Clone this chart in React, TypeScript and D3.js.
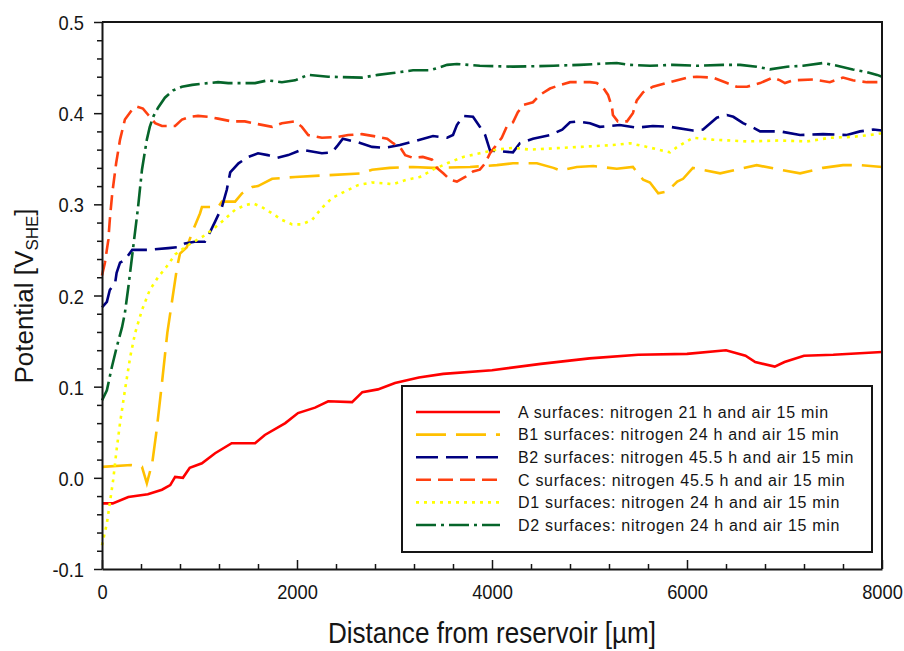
import React, { useRef, useEffect } from "react";
import * as d3 from "d3";

const width = 904;
const height = 651;

// A surfaces (red, solid)
const aX = [0, 110, 270, 470, 615, 700, 750, 830, 900, 1025, 1160, 1330, 1570, 1670, 1880, 2010, 2185, 2320, 2565, 2670, 2830, 3005, 3250, 3500, 4000, 4500, 5000, 5500, 6000, 6400, 6600, 6700, 6900, 7000, 7200, 7500, 8000];
const aY = [-0.028, -0.028, -0.021, -0.018, -0.013, -0.008, 0.001, 0.0, 0.011, 0.016, 0.027, 0.038, 0.038, 0.047, 0.06, 0.071, 0.077, 0.084, 0.083, 0.094, 0.097, 0.104, 0.11, 0.114, 0.118, 0.125, 0.131, 0.135, 0.136, 0.14, 0.134, 0.127, 0.122, 0.127, 0.134, 0.135, 0.138];

// B1 surfaces
const b1X = [0, 300, 410, 460, 515, 560, 615, 670, 720, 770, 800, 870, 935, 1005, 1025, 1190, 1230, 1365, 1435, 1540, 1600, 1745, 1980, 2320, 2665, 2770, 2950, 3190, 3395, 3775, 4050, 4215, 4460, 4630, 4700, 4870, 5040, 5280, 5445, 5550, 5620, 5705, 5795, 5900, 5960, 6060, 6340, 6545, 6715, 6955, 7160, 7395, 7600, 7775, 8000];
const b1Y = [0.012, 0.014, 0.012, -0.006, 0.016, 0.052, 0.104, 0.159, 0.195, 0.231, 0.246, 0.253, 0.272, 0.29, 0.297, 0.297, 0.303, 0.303, 0.312, 0.319, 0.32, 0.328, 0.33, 0.332, 0.334, 0.338, 0.34, 0.341, 0.34, 0.341, 0.343, 0.345, 0.345, 0.34, 0.337, 0.341, 0.342, 0.339, 0.341, 0.327, 0.324, 0.312, 0.314, 0.325, 0.328, 0.34, 0.334, 0.339, 0.343, 0.338, 0.334, 0.34, 0.343, 0.343, 0.341];

// B2 surfaces
const b2X = [0, 50, 80, 135, 150, 185, 235, 310, 475, 680, 780, 850, 950, 1055, 1110, 1160, 1230, 1280, 1315, 1400, 1500, 1600, 1700, 1795, 1910, 2050, 2255, 2360, 2420, 2470, 2625, 2770, 2900, 3055, 3230, 3395, 3540, 3600, 3640, 3705, 3805, 3870, 3930, 3980, 4215, 4285, 4420, 4595, 4720, 4800, 4880, 5005, 5105, 5310, 5485, 5650, 5825, 6060, 6165, 6305, 6410, 6475, 6575, 6680, 6750, 6955, 7160, 7395, 7640, 7775, 7910, 8000];
const b2Y = [0.187, 0.193, 0.206, 0.214, 0.225, 0.236, 0.239, 0.25, 0.25, 0.252, 0.253, 0.257, 0.259, 0.259, 0.27, 0.281, 0.297, 0.316, 0.335, 0.345, 0.352, 0.356, 0.354, 0.351, 0.354, 0.36, 0.356, 0.357, 0.365, 0.372, 0.368, 0.363, 0.362, 0.365, 0.37, 0.375, 0.373, 0.376, 0.387, 0.397, 0.396, 0.386, 0.376, 0.359, 0.357, 0.367, 0.372, 0.376, 0.382, 0.39, 0.391, 0.389, 0.385, 0.387, 0.384, 0.386, 0.385, 0.381, 0.382, 0.395, 0.398, 0.396, 0.389, 0.384, 0.38, 0.38, 0.376, 0.377, 0.376, 0.38, 0.382, 0.381];

// C surfaces
const cX = [0, 30, 65, 80, 105, 145, 185, 235, 310, 360, 420, 475, 545, 615, 750, 820, 900, 985, 1090, 1190, 1330, 1465, 1600, 1745, 1845, 1980, 2050, 2115, 2255, 2420, 2525, 2665, 2830, 2925, 2985, 3055, 3110, 3190, 3290, 3385, 3435, 3500, 3570, 3640, 3725, 3805, 3875, 3930, 3980, 4030, 4100, 4150, 4215, 4265, 4320, 4420, 4490, 4595, 4700, 4800, 5005, 5075, 5140, 5190, 5230, 5240, 5290, 5385, 5445, 5485, 5550, 5650, 5825, 6000, 6100, 6265, 6410, 6510, 6615, 6750, 6880, 6955, 7005, 7090, 7295, 7465, 7600, 7700, 7845, 8000];
const cY = [0.222, 0.236, 0.261, 0.283, 0.312, 0.345, 0.371, 0.393, 0.404, 0.407, 0.405, 0.398, 0.389, 0.386, 0.386, 0.393, 0.396, 0.397, 0.396, 0.394, 0.391, 0.391, 0.388, 0.385, 0.389, 0.391, 0.385, 0.376, 0.373, 0.374, 0.376, 0.377, 0.374, 0.372, 0.367, 0.363, 0.354, 0.351, 0.352, 0.349, 0.34, 0.334, 0.327, 0.325, 0.33, 0.336, 0.338, 0.345, 0.356, 0.363, 0.373, 0.385, 0.39, 0.401, 0.409, 0.412, 0.42, 0.427, 0.431, 0.434, 0.434, 0.433, 0.428, 0.42, 0.407, 0.398, 0.391, 0.391, 0.4, 0.414, 0.423, 0.429, 0.434, 0.439, 0.44, 0.439, 0.433, 0.429, 0.429, 0.433, 0.439, 0.436, 0.433, 0.436, 0.437, 0.434, 0.439, 0.436, 0.434, 0.434];

// D1 surfaces
const d1X = [0, 50, 80, 115, 150, 185, 235, 290, 340, 410, 490, 575, 665, 750, 880, 1025, 1130, 1230, 1365, 1465, 1550, 1640, 1745, 1845, 1950, 2050, 2155, 2255, 2360, 2490, 2625, 2770, 2900, 2985, 3125, 3260, 3395, 3540, 3705, 3875, 4050, 4215, 4390, 4730, 5075, 5240, 5415, 5590, 5825, 5900, 6060, 6265, 6615, 6955, 7230, 7465, 7700, 7875, 8000];
const d1Y = [-0.074, -0.05, -0.028, -0.002, 0.031, 0.06, 0.096, 0.133, 0.159, 0.184, 0.206, 0.22, 0.232, 0.245, 0.255, 0.264, 0.272, 0.281, 0.294, 0.299, 0.301, 0.297, 0.29, 0.283, 0.278, 0.278, 0.283, 0.296, 0.307, 0.314, 0.321, 0.324, 0.323, 0.322, 0.327, 0.33, 0.338, 0.345, 0.352, 0.356, 0.36, 0.362, 0.36, 0.362, 0.364, 0.365, 0.367, 0.363, 0.357, 0.363, 0.373, 0.371, 0.369, 0.37, 0.369, 0.373, 0.374, 0.376, 0.378];

// D2 surfaces
const d2X = [0, 50, 100, 150, 205, 235, 270, 320, 370, 410, 460, 490, 525, 575, 645, 730, 820, 925, 1090, 1190, 1295, 1570, 1700, 1845, 1980, 2115, 2320, 2665, 2830, 2985, 3190, 3365, 3540, 3640, 3875, 4215, 4630, 4900, 5075, 5280, 5415, 5620, 5855, 6100, 6370, 6545, 6715, 6850, 7025, 7190, 7395, 7540, 7700, 7845, 7950, 8000];
const d2Y = [0.085, 0.096, 0.121, 0.143, 0.165, 0.181, 0.209, 0.253, 0.297, 0.338, 0.371, 0.385, 0.396, 0.406, 0.417, 0.425, 0.429, 0.431, 0.433, 0.434, 0.433, 0.433, 0.436, 0.434, 0.436, 0.442, 0.44, 0.439, 0.442, 0.444, 0.447, 0.447, 0.453, 0.454, 0.452, 0.451, 0.452, 0.453, 0.454, 0.455, 0.453, 0.452, 0.453, 0.452, 0.453, 0.453, 0.451, 0.448, 0.451, 0.452, 0.455, 0.452, 0.448, 0.445, 0.442, 0.44];

const labels = [
  "A surfaces: nitrogen 21 h and air 15 min",
  "B1 surfaces: nitrogen 24 h and air 15 min",
  "B2 surfaces: nitrogen 45.5 h and air 15 min",
  "C surfaces: nitrogen 45.5 h and air 15 min",
  "D1 surfaces: nitrogen 24 h and air 15 min",
  "D2 surfaces: nitrogen 24 h and air 15 min",
];
const colors = ["#ff0000", "#ffc000", "#000080", "#ff4010", "#ffff00", "#06652a"];
const dashes = ["none", "30,10", "22,8", "15,7", "3,5", "20,5,3,5"];

const xMajor = [0, 2000, 4000, 6000, 8000];
const yMajor = [-0.1, 0.0, 0.1, 0.2, 0.3, 0.4, 0.5];

const font = "'Liberation Sans', Arial, sans-serif";
const ink = "#151515";

export default function App() {
  const svgRef = useRef<SVGSVGElement>(null);

  useEffect(() => {
    if (!svgRef.current) return;
    const svg = d3.select(svgRef.current);
    svg.selectAll("*").remove();

    const x = d3.scaleLinear().domain([0, 8000]).range([102, 882]);
    const y = d3.scaleLinear().domain([-0.1, 0.5]).range([569, 22]);

    const xMinor = d3.range(0, 8001, 400).filter(v => v % 2000 !== 0);
    const yMinor = d3.range(-5, 26).filter(i => i % 5 !== 0).map(i => i / 50);

    const series = [
      [aX, aY], [b1X, b1Y], [b2X, b2Y], [cX, cY], [d1X, d1Y], [d2X, d2Y],
    ].map(([xs, ys]) => xs.map((v, i) => [v, ys[i]] as [number, number]));

    const line = d3.line<[number, number]>()
      .x(d => x(d[0]))
      .y(d => y(d[1]));

    // data lines
    const lines = svg.append("g");
    series.forEach((pts, i) => {
      lines.append("path")
        .attr("d", line(pts))
        .attr("fill", "none")
        .attr("stroke", colors[i])
        .attr("stroke-width", 2.6)
        .attr("stroke-dasharray", dashes[i]);
    });

    // frame top + right
    svg.append("path")
      .attr("d", `M${x(0)},${y(0.5)}H${x(8000)}V${y(-0.1)}`)
      .attr("fill", "none").attr("stroke", ink).attr("stroke-width", 2);

    // x axis
    const gx = svg.append("g").attr("transform", `translate(0,${y(-0.1)})`);
    gx.append("g")
      .call(d3.axisBottom(x).tickValues(xMinor).tickSize(-5).tickSizeOuter(0).tickFormat(() => ""))
      .call(g => g.select(".domain").remove());
    gx.append("g")
      .call(d3.axisBottom(x).tickValues(xMajor).tickSizeInner(-9).tickSizeOuter(0).tickPadding(15).tickFormat(d => String(d)));
    gx.selectAll("text")
      .attr("font-size", 21)
      .attr("font-family", font)
      .attr("fill", ink)
      .attr("transform", "scale(0.87,1)");

    // y axis
    const gy = svg.append("g").attr("transform", `translate(${x(0)},0)`);
    gy.append("g")
      .call(d3.axisLeft(y).tickValues(yMinor).tickSize(5).tickSizeOuter(0).tickFormat(() => ""))
      .call(g => g.select(".domain").remove());
    gy.append("g")
      .call(d3.axisLeft(y).tickValues(yMajor).tickSize(8).tickSizeOuter(0).tickFormat(d => (+d).toFixed(1)));
    gy.selectAll("text")
      .attr("font-size", 21)
      .attr("font-family", font)
      .attr("fill", ink)
      .attr("x", -18 / 0.87)
      .attr("dy", "0.36em")
      .attr("transform", "scale(0.87,1)");

    svg.selectAll(".domain").attr("stroke", ink).attr("stroke-width", 2);
    svg.selectAll(".tick line").attr("stroke", ink).attr("stroke-width", 1.5);

    // axis titles
    svg.append("g")
      .attr("transform", `translate(492,643) scale(0.9,1)`)
      .append("text")
      .attr("text-anchor", "middle")
      .attr("font-size", 29)
      .attr("font-family", font)
      .attr("fill", ink)
      .text("Distance from reservoir [µm]");

    const yt = svg.append("text")
      .attr("transform", "translate(33,296) rotate(-90)")
      .attr("text-anchor", "middle")
      .attr("font-size", 26)
      .attr("font-family", font)
      .attr("fill", ink);
    yt.append("tspan").text("Potential [V");
    yt.append("tspan").attr("font-size", 17).attr("dy", 5).text("SHE");
    yt.append("tspan").attr("dy", -5).text("]");

    // legend
    const lg = svg.append("g");
    lg.append("rect")
      .attr("x", 402).attr("y", 386).attr("width", 470).attr("height", 166)
      .attr("fill", "#fff").attr("stroke", ink).attr("stroke-width", 2);
    labels.forEach((lab, i) => {
      const yy = 412 + i * 22.6;
      lg.append("line")
        .attr("x1", 416).attr("x2", 500).attr("y1", yy).attr("y2", yy)
        .attr("stroke", colors[i]).attr("stroke-width", 2.6)
        .attr("stroke-dasharray", dashes[i]);
      lg.append("text")
        .attr("x", 518).attr("y", yy).attr("dy", "0.36em")
        .attr("font-size", 16).attr("letter-spacing", 0.7)
        .attr("font-family", font).attr("fill", ink)
        .text(lab);
    });
  }, []);

  return (
    <div style={{ position: "absolute", left: 0, top: 0 }}>
      <svg ref={svgRef} width={width} height={height} style={{ display: "block", background: "#fff" }} />
    </div>
  );
}
